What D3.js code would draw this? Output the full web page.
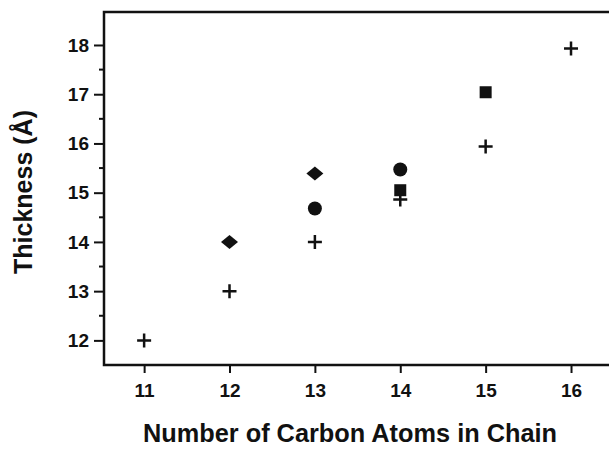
<!DOCTYPE html>
<html>
<head>
<meta charset="utf-8">
<script src="https://cdn.jsdelivr.net/npm/d3@7"></script>
<style>
  body { margin: 0; background: #fff; }
  svg { display: block; font-family: "Liberation Sans", Arial, sans-serif; font-weight: bold; }
</style>
</head>
<body>
<svg id="chart" width="609" height="449"></svg>
<script>
// values: [carbon atoms, thickness]
const crosses = [[11, 12.0], [12, 13.0], [13, 14.0], [14, 14.86], [15, 15.94], [16, 17.93]];
const diamonds = [[12, 14.0], [13, 15.39]];
const circlesData = [[13, 14.68], [14, 15.47]];
const squares = [[14, 15.05], [15, 17.04]];
const xTicks = [11, 12, 13, 14, 15, 16];
const yTicks = [12, 13, 14, 15, 16, 17, 18];
const yMinor = [12.5, 13.5, 14.5, 15.5, 16.5, 17.5];

const svg = d3.select('#chart');
const plotLeft = 104, plotRight = 612, plotTop = 12, plotBottom = 365;

const x = d3.scaleLinear().domain([10.53, 16.48]).range([plotLeft, plotRight]);
const y = d3.scaleLinear().domain([11.5, 18.67]).range([plotBottom, plotTop]);

// y axis
const yAxis = svg.append('g')
  .attr('transform', `translate(${plotLeft},0)`)
  .call(d3.axisLeft(y).tickValues(yTicks).tickSize(10).tickPadding(5).tickFormat(d3.format('d')));
yAxis.select('.domain').remove();
yAxis.selectAll('line').attr('stroke', '#111').attr('stroke-width', 2);
yAxis.selectAll('text').attr('font-size', 19).attr('fill', '#111').attr('font-family', null);

svg.append('g').selectAll('line').data(yMinor).join('line')
  .attr('x1', plotLeft - 5).attr('x2', plotLeft)
  .attr('y1', d => y(d)).attr('y2', d => y(d))
  .attr('stroke', '#111').attr('stroke-width', 2);

// x axis
const xAxis = svg.append('g')
  .attr('transform', `translate(0,${plotBottom})`)
  .call(d3.axisBottom(x).tickValues(xTicks).tickSize(8).tickPadding(11).tickFormat(d3.format('d')));
xAxis.select('.domain').remove();
xAxis.selectAll('line').attr('stroke', '#111').attr('stroke-width', 2);
xAxis.selectAll('text').attr('font-size', 19).attr('fill', '#111').attr('font-family', null);

// frame: top, left, bottom (right side runs off the picture)
svg.append('path')
  .attr('d', `M${plotRight},${plotTop}H${plotLeft}V${plotBottom}H${plotRight}`)
  .attr('fill', 'none').attr('stroke', '#111').attr('stroke-width', 2.5);

// markers
svg.append('g').selectAll('path').data(crosses).join('path')
  .attr('d', d => {
    const cx = x(d[0]), cy = y(d[1]);
    return `M${cx - 7},${cy}H${cx + 7}M${cx},${cy - 7}V${cy + 7}`;
  })
  .attr('stroke', '#111').attr('stroke-width', 2.5).attr('fill', 'none');

svg.append('g').selectAll('path').data(diamonds).join('path')
  .attr('d', d => {
    const cx = x(d[0]), cy = y(d[1]);
    return `M${cx - 8.5},${cy}L${cx},${cy - 7}L${cx + 8.5},${cy}L${cx},${cy + 7}Z`;
  })
  .attr('fill', '#111');

svg.append('g').selectAll('circle').data(circlesData).join('circle')
  .attr('cx', d => x(d[0])).attr('cy', d => y(d[1])).attr('r', 7)
  .attr('fill', '#111');

svg.append('g').selectAll('rect').data(squares).join('rect')
  .attr('x', d => x(d[0]) - 6).attr('y', d => y(d[1]) - 6)
  .attr('width', 12).attr('height', 12)
  .attr('fill', '#111');

// axis titles
svg.append('text')
  .attr('x', 350).attr('y', 442)
  .attr('text-anchor', 'middle').attr('font-size', 25).attr('fill', '#111')
  .attr('textLength', 414).attr('lengthAdjust', 'spacingAndGlyphs')
  .text('Number of Carbon Atoms in Chain');

svg.append('text')
  .attr('transform', 'translate(32,192) rotate(-90)')
  .attr('text-anchor', 'middle').attr('font-size', 25).attr('fill', '#111')
  .text('Thickness (Å)');
</script>
</body>
</html>
